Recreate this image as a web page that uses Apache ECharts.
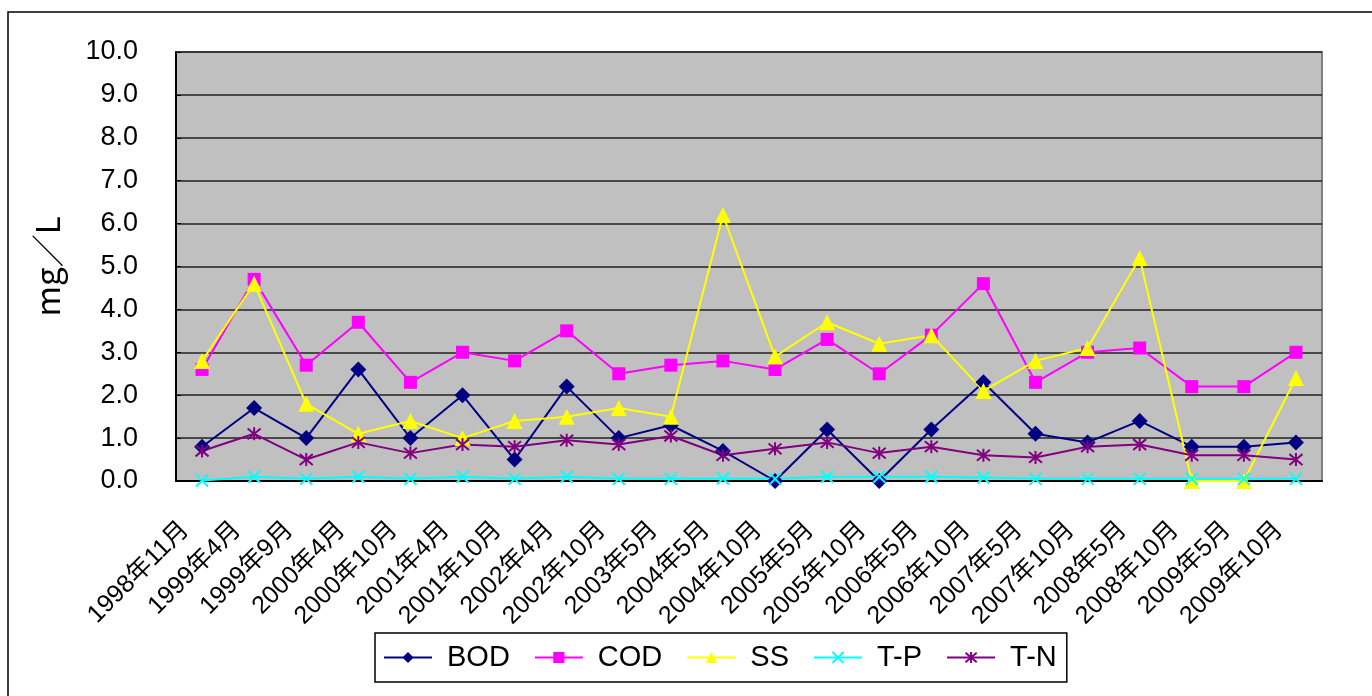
<!DOCTYPE html>
<html><head><meta charset="utf-8">
<script src="https://cdn.jsdelivr.net/npm/echarts@6/dist/echarts.min.js"></script>
<style>html,body{margin:0;padding:0;background:#fff}#c{width:1372px;height:696px}</style>
</head><body><div id="c"></div>
<script>
const categories = ['1998年11月','1999年4月','1999年9月','2000年4月','2000年10月','2001年4月','2001年10月','2002年4月','2002年10月','2003年5月','2004年5月','2004年10月','2005年5月','2005年10月','2006年5月','2006年10月','2007年5月','2007年10月','2008年5月','2008年10月','2009年5月','2009年10月'];
const BOD = [0.8,1.7,1.0,2.6,1.0,2.0,0.5,2.2,1.0,1.3,0.7,0.0,1.2,0.0,1.2,2.3,1.1,0.9,1.4,0.8,0.8,0.9];
const COD = [2.6,4.7,2.7,3.7,2.3,3.0,2.8,3.5,2.5,2.7,2.8,2.6,3.3,2.5,3.4,4.6,2.3,3.0,3.1,2.2,2.2,3.0];
const SS  = [2.8,4.6,1.8,1.1,1.4,1.0,1.4,1.5,1.7,1.5,6.2,2.9,3.7,3.2,3.4,2.1,2.8,3.1,5.2,0.0,0.0,2.4];
const TP  = [0.01,0.1,0.05,0.1,0.05,0.1,0.05,0.1,0.05,0.05,0.06,0.05,0.1,0.1,0.1,0.08,0.05,0.05,0.05,0.05,0.05,0.05];
const TN  = [0.7,1.1,0.5,0.9,0.65,0.85,0.8,0.95,0.85,1.05,0.6,0.75,0.9,0.65,0.8,0.6,0.55,0.8,0.85,0.6,0.6,0.5];
const yTicks = {min:0, max:10, interval:1};

const FONT = '"Liberation Sans", Arial, "Noto Sans CJK JP", sans-serif';
const chart = echarts.init(document.getElementById('c'));
const xSym = 'path://M0,0L10,10M10,0L0,10';
const starSym = 'path://M0,0L10,10M10,0L0,10M5,-1L5,11';
function ser(name, data, color, symbol, size, stroke){
  return {name, type:'line', data, symbol, symbolSize:size, showSymbol:true,
    lineStyle:{color, width:2}, itemStyle: stroke ? {color:'none', borderColor:color, borderWidth:2} : {color, borderColor:color, borderWidth:0},
    emphasis:{disabled:true}, animation:false};
}
chart.setOption({
  animation:false,
  graphic:[{type:'rect', shape:{x:8,y:12,width:1370,height:700}, style:{fill:'none', stroke:'#000', lineWidth:1.5}, silent:true}],
  grid:{left:176, right:50, top:52, bottom:215, show:true, backgroundColor:'#C0C0C0', borderColor:'#808080', borderWidth:2},
  xAxis:{type:'category', data:categories, boundaryGap:true,
    axisLine:{lineStyle:{color:'#000', width:2}},
    axisTick:{inside:true, length:7, lineStyle:{color:'#000', width:1.5}},
    axisLabel:{rotate:45, interval:0, margin:28, padding:[0,24,0,0], color:'#000', fontSize:25, fontFamily:FONT}},
  yAxis:{type:'value', min:yTicks.min, max:yTicks.max, interval:yTicks.interval,
    name:'mg／L', nameLocation:'middle', nameGap:112, nameRotate:90,
    nameTextStyle:{fontSize:33, color:'#000', fontFamily:'"Noto Sans CJK JP", sans-serif'},
    axisLine:{show:true, lineStyle:{color:'#000', width:2}},
    axisTick:{show:true, inside:true, length:5, lineStyle:{color:'#000'}},
    axisLabel:{formatter:v=>v.toFixed(1), color:'#000', fontSize:27, margin:38, fontFamily:FONT},
    splitLine:{lineStyle:{color:'#222', width:1.5}}},
  legend:{left:375, top:633, width:694, itemWidth:48, itemHeight:14, itemGap:24,
    borderColor:'#000', borderWidth:1.5, padding:[10,10,10,8], backgroundColor:'#fff',
    textStyle:{fontSize:29, color:'#000', fontFamily:FONT, padding:[0,0,0,10]},
    data:['BOD','COD','SS','T-P','T-N']},
  series:[
    ser('BOD', BOD, '#000080', 'diamond', 16),
    ser('COD', COD, '#FF00FF', 'rect', 13),
    ser('SS', SS, '#FFFF00', 'triangle', 16),
    ser('T-P', TP, '#00FFFF', xSym, 12, true),
    ser('T-N', TN, '#800080', starSym, 13, true)
  ]
});
</script></body></html>
